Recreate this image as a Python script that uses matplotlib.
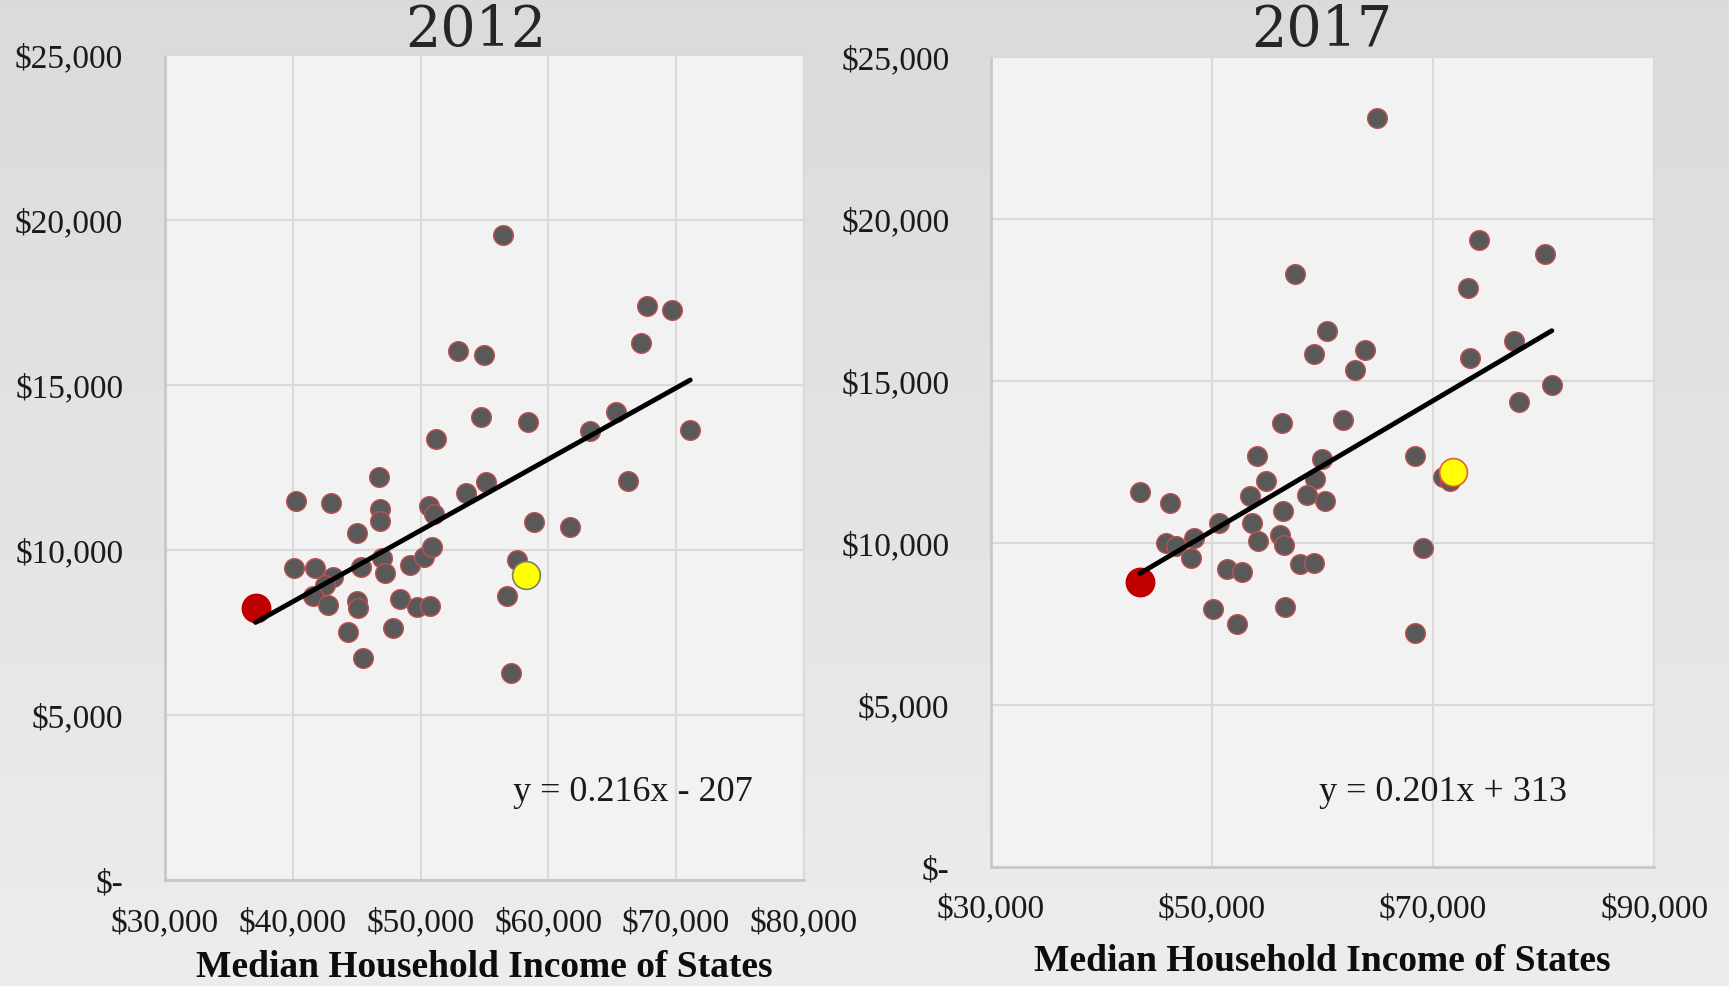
import numpy as np
import matplotlib
matplotlib.use("Agg")
import matplotlib.pyplot as plt
from matplotlib.ticker import FuncFormatter

# 2012 data (median household income, per-pupil spending)
inc_2012 = [52960, 51240, 56450, 67710, 69670, 67270, 54940, 54760, 58410, 63230,
            65320, 71100, 40220, 42955, 46730, 46835, 46835, 45065, 50665, 51030,
            53560, 55150, 40110, 41730, 43110, 42560, 41550, 42770, 45320, 46970,
            47200, 49160, 50250, 50930, 45010, 45140, 48370, 49760, 50720, 44310,
            47830, 45480, 58900, 61720, 66250, 57550, 56760, 57050]
spend_2012 = [16040, 13360, 19545, 17385, 17273, 16282, 15909, 14040, 13890, 13615,
              14170, 13636, 11475, 11414, 12212, 11242, 10888, 10515, 11333, 11090,
              11718, 12070, 9455, 9445, 9192, 8940, 8597, 8333, 9475, 9758,
              9294, 9545, 9797, 10091, 8464, 8242, 8515, 8282, 8313, 7524,
              7624, 6727, 10839, 10697, 12091, 9697, 8606, 6273]
low_2012 = (37090, 8233)
hi_2012 = (58280, 9252)
fit_2012 = (0.216, -207)

# 2017 data
inc_2017 = [64905, 57510, 60435, 59200, 63846, 62940, 74160, 80110, 73170, 77360,
            73350, 80740, 56300, 61855, 54045, 59955, 59320, 54890, 53410, 58570,
            60226, 56425, 43484, 46172, 50606, 53620, 56154, 56516, 54190, 48371,
            45837, 46742, 48100, 57990, 59230, 51330, 52742, 50063, 52235, 56580,
            77780, 68400, 70930, 71540, 69125, 68400]
spend_2017 = [23099, 18293, 16543, 15824, 15957, 15330, 19343, 18920, 17852, 16216,
              15701, 14880, 13694, 13778, 12666, 12593, 11966, 11914, 11451, 11472,
              11278, 10988, 11574, 11225, 10608, 10599, 10238, 9938, 10062, 10145,
              9991, 9889, 9528, 9333, 9383, 9198, 9086, 7954, 7500, 8015,
              14333, 12666, 12019, 11914, 9827, 7204]
low_2017 = (43484, 8787)
hi_2017 = (71780, 12173)
fit_2017 = (0.201, 313)

SERIF = ["Liberation Serif", "DejaVu Serif"]

fig = plt.figure(figsize=(17.29, 9.87), dpi=100)

# grey gradient background
bg = fig.add_axes([0, 0, 1, 1], zorder=-10)
grad = np.linspace(0.855, 0.925, 256).reshape(-1, 1)
bg.imshow(grad, aspect="auto", cmap="gray", vmin=0, vmax=1, extent=[0, 1, 0, 1])
bg.axis("off")


def money(v, pos):
    if v == 0:
        return "$-"
    return "${:,.0f}".format(v)


def panel(rect, xs, ys, low, hi, fit, xticks, eq_pos, hi_edge, xlab_pad):
    ax = fig.add_axes(rect)
    ax.set_facecolor("#f2f2f2")
    ax.set_xlim(xticks[0], xticks[-1])
    ax.set_ylim(0, 25000)
    ax.set_xticks(xticks)
    ax.set_yticks(range(0, 25001, 5000))
    ax.xaxis.set_major_formatter(FuncFormatter(money))
    ax.yaxis.set_major_formatter(FuncFormatter(money))
    ax.grid(True, color="#d9d9d9", linewidth=1.5)
    ax.set_axisbelow(True)
    for s in ax.spines.values():
        s.set_color("#d9d9d9")
        s.set_linewidth(1.2)
    ax.spines["left"].set_color("#c8c8c8")
    ax.spines["bottom"].set_color("#c8c8c8")
    ax.spines["left"].set_linewidth(2)
    ax.spines["bottom"].set_linewidth(2)
    ax.tick_params(length=0, labelsize=24)
    ax.tick_params(axis="y", pad=30)
    ax.tick_params(axis="x", pad=19)
    for lab in ax.get_xticklabels() + ax.get_yticklabels():
        lab.set_family(SERIF)
        lab.set_color("#1a1a1a")

    ax.scatter(xs, ys, s=200, color="#595959", edgecolors="#c0504d",
               linewidths=1.0, zorder=3)
    allx = list(xs) + [low[0], hi[0]]
    fx = np.array([min(allx), max(allx)])
    ax.plot(fx, fit[0] * fx + fit[1], color="black", linewidth=3.5, zorder=4,
            solid_capstyle="round")
    ax.scatter([low[0]], [low[1]], s=420, color="#c00000", edgecolors="#c00000",
               linewidths=1.0, zorder=3.5)
    ax.scatter([hi[0]], [hi[1]], s=400, color="#ffff00", edgecolors=hi_edge,
               linewidths=1.2, zorder=3.5)

    sign = "-" if fit[1] < 0 else "+"
    ax.text(eq_pos[0], eq_pos[1], "y = {:.3f}x {} {}".format(fit[0], sign, abs(fit[1])),
            transform=ax.transAxes, ha="center", va="center", fontsize=26,
            family=SERIF, color="#1a1a1a")
    ax.set_xlabel("Median Household Income of States", family=SERIF,
                  fontweight="bold", fontsize=27, color="#0d0d0d", labelpad=xlab_pad)
    return ax


ax1 = panel([0.0954, 0.1074, 0.3696, 0.8359], inc_2012, spend_2012,
            low_2012, hi_2012, fit_2012, [30000, 40000, 50000, 60000, 70000, 80000],
            (0.732, 0.107), "#7f7f5f", 9)
ax2 = panel([0.5732, 0.1209, 0.3835, 0.8207], inc_2017, spend_2017,
            low_2017, hi_2017, fit_2017, [30000, 50000, 70000, 90000],
            (0.682, 0.093), "#e06030", 14)

fig.text(476 / 1729, 1 - 31 / 987, "2012", ha="center", va="center",
         fontsize=40, family=["DejaVu Serif"], color="#262626")
fig.text(1322 / 1729, 1 - 31 / 987, "2017", ha="center", va="center",
         fontsize=40, family=["DejaVu Serif"], color="#262626")

fig.savefig("out.png", dpi=100)
